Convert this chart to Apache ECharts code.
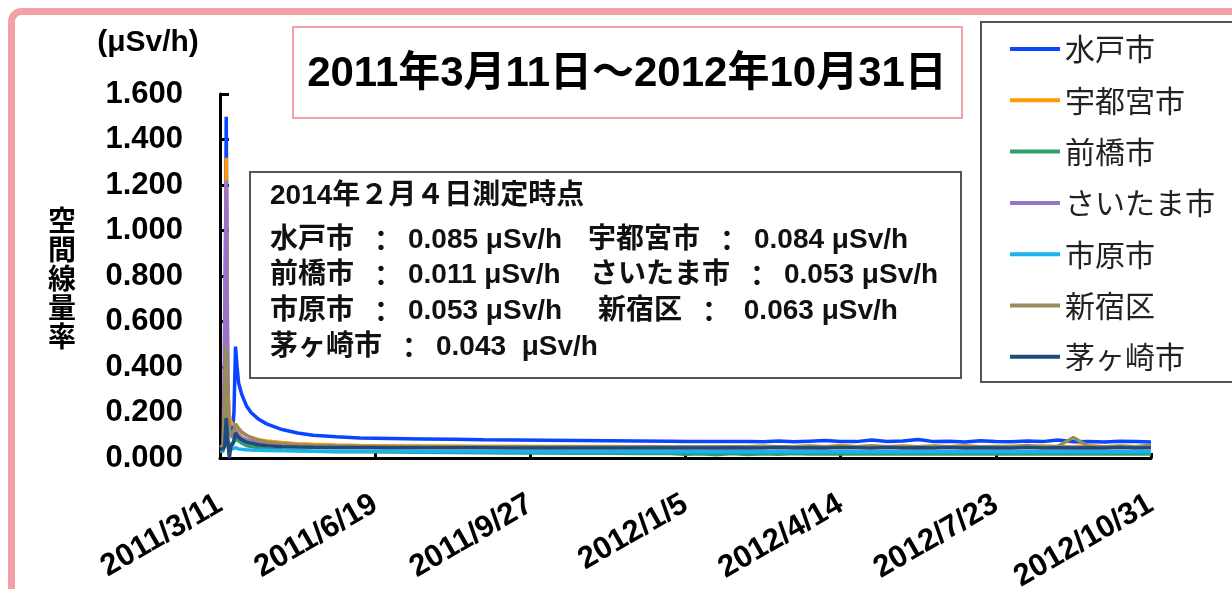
<!DOCTYPE html>
<html>
<head>
<meta charset="utf-8">
<title>空間線量率</title>
<script src="https://cdn.jsdelivr.net/npm/echarts@6/dist/echarts.min.js"></script>
<style>
  html, body { margin: 0; padding: 0; background: #fff; }
  #chart { width: 1232px; height: 589px; }
</style>
</head>
<body>
<div id="chart"></div>
<script>
// 都市名と線の色
const cities = ['水戸市', '宇都宮市', '前橋市', 'さいたま市', '市原市', '新宿区', '茅ヶ崎市']
const colors = ['#0a46ff', '#ff9a00', '#2f9e6c', '#9a72c8', '#19b2f2', '#978c5b', '#1f4a7c']

// x軸の目盛ラベル（100日ごと）
const tickLabels = ['2011/3/11', '2011/6/19', '2011/9/27', '2012/1/5', '2012/4/14', '2012/7/23', '2012/10/31']

// 2011/3/11 からの経過日数
const days = [0, 1, 2, 3, 4, 5, 6, 7, 8, 9, 10, 11, 12,
  14, 17, 20, 25, 30,
  40, 50, 60, 75, 90,
  110, 130, 150, 170, 190, 210, 230, 250, 270, 290,
  300, 310, 320, 330, 340, 350, 360, 370, 380, 390, 400, 410, 420, 430, 440,
  450, 460, 470, 480, 490, 500, 510, 520, 530, 540, 550, 560, 570, 580, 590, 600]

// 空間線量率 (μSv/h)
const mito = [0.05, 0.05, 0.055, 0.08, 1.50, 0.35, 0.12, 0.10, 0.11, 0.20, 0.49, 0.40, 0.33,
  0.28, 0.23, 0.20, 0.17, 0.15,
  0.125, 0.11, 0.10, 0.093, 0.088,
  0.086, 0.084, 0.082, 0.080, 0.079, 0.078, 0.077, 0.076, 0.075, 0.074,
  0.073, 0.073, 0.072, 0.072, 0.072, 0.071, 0.075, 0.071, 0.074, 0.077, 0.073, 0.072, 0.079, 0.073, 0.075,
  0.081, 0.072, 0.074, 0.070, 0.076, 0.073, 0.071, 0.075, 0.072, 0.079, 0.071, 0.073, 0.070, 0.074, 0.072, 0.070]
const utsunomiya = [0.045, 0.045, 0.05, 0.06, 1.32, 0.30, 0.19, 0.16, 0.15, 0.15, 0.145, 0.13, 0.12,
  0.11, 0.10, 0.09, 0.08, 0.075,
  0.068, 0.063, 0.06, 0.057, 0.055,
  0.054, 0.053, 0.053, 0.052, 0.052, 0.051, 0.051, 0.051, 0.050, 0.050,
  0.050, 0.050, 0.049, 0.050, 0.049, 0.052, 0.049, 0.050, 0.051, 0.049, 0.055, 0.050, 0.052, 0.049, 0.053,
  0.050, 0.051, 0.049, 0.054, 0.050, 0.049, 0.052, 0.050, 0.053, 0.049, 0.050, 0.055, 0.049, 0.051, 0.050, 0.049]
const maebashi = [0.03, 0.03, 0.03, 0.035, 0.20, 0.08, 0.06, 0.06, 0.06, 0.07, 0.09, 0.08, 0.075,
  0.065, 0.055, 0.05, 0.045, 0.04,
  0.036, 0.033, 0.03, 0.028, 0.027,
  0.026, 0.025, 0.024, 0.023, 0.022, 0.022, 0.021, 0.021, 0.020, 0.020,
  0.016, 0.019, 0.014, 0.020, 0.015, 0.019, 0.017, 0.020, 0.018, 0.019, 0.018, 0.019, 0.018, 0.018, 0.019,
  0.018, 0.018, 0.019, 0.018, 0.018, 0.018, 0.019, 0.018, 0.018, 0.018, 0.019, 0.018, 0.018, 0.018, 0.018, 0.018]
const saitama = [0.04, 0.04, 0.04, 0.045, 1.22, 0.25, 0.13, 0.10, 0.09, 0.10, 0.12, 0.11, 0.10,
  0.09, 0.08, 0.075, 0.068, 0.062,
  0.057, 0.054, 0.052, 0.051, 0.050,
  0.050, 0.049, 0.049, 0.048, 0.048, 0.048, 0.047, 0.047, 0.047, 0.047,
  0.047, 0.047, 0.046, 0.047, 0.046, 0.048, 0.046, 0.047, 0.047, 0.046, 0.048, 0.047, 0.046, 0.047, 0.048,
  0.046, 0.047, 0.047, 0.046, 0.048, 0.047, 0.046, 0.047, 0.047, 0.048, 0.046, 0.047, 0.046, 0.047, 0.047, 0.046]
const ichihara = [0.035, 0.035, 0.035, 0.04, 0.10, 0.06, 0.045, 0.04, 0.04, 0.04, 0.045, 0.042, 0.04,
  0.038, 0.036, 0.035, 0.034, 0.033,
  0.032, 0.031, 0.03, 0.03, 0.03,
  0.03, 0.029, 0.029, 0.029, 0.028, 0.028, 0.028, 0.028, 0.028, 0.027,
  0.027, 0.027, 0.028, 0.027, 0.027, 0.028, 0.027, 0.027, 0.028, 0.027, 0.027, 0.027, 0.028, 0.027, 0.027,
  0.027, 0.028, 0.027, 0.027, 0.027, 0.028, 0.027, 0.027, 0.027, 0.027, 0.028, 0.027, 0.027, 0.027, 0.027, 0.027]
const shinjuku = [0.04, 0.04, 0.04, 0.045, 0.49, 0.20, 0.12, 0.10, 0.10, 0.12, 0.15, 0.14, 0.13,
  0.115, 0.10, 0.09, 0.078, 0.07,
  0.063, 0.058, 0.055, 0.053, 0.052,
  0.051, 0.051, 0.050, 0.050, 0.050, 0.049, 0.049, 0.049, 0.049, 0.049,
  0.049, 0.049, 0.048, 0.049, 0.049, 0.051, 0.049, 0.050, 0.053, 0.049, 0.052, 0.050, 0.054, 0.049, 0.051,
  0.050, 0.053, 0.049, 0.052, 0.050, 0.051, 0.049, 0.055, 0.050, 0.052, 0.090, 0.051, 0.049, 0.053, 0.050, 0.056]
const chigasaki = [0.04, 0.04, 0.04, 0.05, 0.175, 0.08, 0.0, 0.05, 0.06, 0.08, 0.11, 0.10, 0.09,
  0.08, 0.07, 0.065, 0.058, 0.054,
  0.05, 0.048, 0.047, 0.046, 0.046,
  0.045, 0.045, 0.045, 0.045, 0.044, 0.044, 0.044, 0.044, 0.044, 0.044,
  0.044, 0.044, 0.044, 0.045, 0.044, 0.044, 0.046, 0.044, 0.045, 0.044, 0.046, 0.045, 0.044, 0.046, 0.044,
  0.045, 0.044, 0.046, 0.044, 0.045, 0.044, 0.044, 0.046, 0.044, 0.045, 0.044, 0.045, 0.044, 0.046, 0.044, 0.045]
const values = [mito, utsunomiya, maebashi, saitama, ichihara, shinjuku, chigasaki]

// 2014年2月4日測定時点の注記（都市名と値）
const noteTitle = '2014年２月４日測定時点'
const noteLeft = [['水戸市', '0.085 μSv/h'], ['前橋市', '0.011 μSv/h'], ['市原市', '0.053 μSv/h'], ['茅ヶ崎市', '0.043  μSv/h']]
const noteRight = [['宇都宮市', '0.084 μSv/h'], ['さいたま市', '0.053 μSv/h'], ['新宿区', ' 0.063 μSv/h']]

const FONT = '"Liberation Sans", Arial, "Noto Sans CJK JP", sans-serif'
const CJK = '"Noto Sans CJK JP", sans-serif'

const myChart = echarts.init(document.getElementById('chart'))

const noteRowY = [240, 275, 311, 347]
const noteRightX = [588, 590, 598]

// 注記1行分のリッチテキスト
function noteText (x, y, pair) {
  return {
    type: 'text', x: x, y: y,
    style: {
      text: '{n|' + pair[0] + '}{c|：}{n|' + pair[1] + '}',
      textVerticalAlign: 'middle',
      rich: {
        n: { font: 'bold 28px ' + FONT, fill: '#111' },
        c: { font: 'bold 28px ' + CJK, fill: '#111', width: 54, align: 'center' }
      }
    }
  }
}

const graphic = [
  // ピンクの外枠
  { type: 'rect', shape: { x: 11.5, y: 11.5, width: 1300, height: 700, r: 10 },
    style: { fill: 'none', stroke: '#f5a0a8', lineWidth: 7 }, silent: true },
  // タイトル枠
  { type: 'rect', shape: { x: 293, y: 27, width: 669, height: 91 },
    style: { fill: 'none', stroke: '#f5a0a8', lineWidth: 2 }, silent: true },
  { type: 'text', x: 627, y: 74,
    style: { text: '2011年3月11日～2012年10月31日', font: 'bold 42px ' + FONT, fill: '#000', textAlign: 'center', textVerticalAlign: 'middle' } },
  // 単位
  { type: 'text', x: 148, y: 43,
    style: { text: '(μSv/h)', font: 'bold 30px ' + FONT, fill: '#000', textAlign: 'center', textVerticalAlign: 'middle' } },
  // 縦書きの軸名
  { type: 'text', x: 62, y: 278,
    style: { text: '空\n間\n線\n量\n率', font: 'bold 28px ' + CJK, lineHeight: 29, fill: '#000', textAlign: 'center', textVerticalAlign: 'middle' } },
  // 凡例の枠
  { type: 'rect', shape: { x: 981, y: 22, width: 300, height: 360 },
    style: { fill: 'none', stroke: '#555', lineWidth: 2 }, silent: true },
  // 注記の枠
  { type: 'rect', shape: { x: 250, y: 172, width: 711, height: 206 },
    style: { fill: 'none', stroke: '#555', lineWidth: 2 }, silent: true },
  { type: 'text', x: 270, y: 196,
    style: { text: noteTitle, font: 'bold 28px ' + FONT, fill: '#111', textVerticalAlign: 'middle' } }
]
noteLeft.forEach((p, i) => graphic.push(noteText(270, noteRowY[i], p)))
noteRight.forEach((p, i) => graphic.push(noteText(noteRightX[i], noteRowY[i], p)))

const option = {
  animation: false,
  color: colors,
  grid: { left: 220, top: 94, right: 81, bottom: 131, outerBoundsMode: 'none' },
  legend: {
    orient: 'vertical',
    left: 1005,
    top: 29,
    icon: 'rect',
    itemWidth: 50,
    itemHeight: 4,
    itemGap: 21.3,
    textStyle: { fontSize: 30, lineHeight: 30, color: '#222', fontFamily: CJK },
    data: cities
  },
  xAxis: {
    type: 'value',
    min: 0,
    max: 600,
    interval: 100,
    axisLine: { lineStyle: { color: '#000', width: 3 } },
    axisTick: { show: true, inside: true, length: 5, lineStyle: { color: '#000', width: 3 } },
    axisLabel: {
      rotate: 30,
      margin: 44,
      showMinLabel: true,
      showMaxLabel: true,
      fontSize: 31,
      fontWeight: 'bold',
      color: '#000',
      fontFamily: FONT,
      formatter: v => tickLabels[Math.round(v / 100)]
    },
    splitLine: { show: false }
  },
  yAxis: {
    type: 'value',
    min: 0,
    max: 1.6,
    interval: 0.2,
    axisLine: { show: true, lineStyle: { color: '#000', width: 3 } },
    axisTick: { show: true, inside: true, length: 9, lineStyle: { color: '#000', width: 3 } },
    axisLabel: {
      margin: 37,
      fontSize: 31,
      fontWeight: 'bold',
      color: '#000',
      fontFamily: FONT,
      padding: [10, 0, 0, 0],
      formatter: v => v.toFixed(3)
    },
    splitLine: { show: false }
  },
  series: cities.map((name, k) => ({
    name: name,
    type: 'line',
    symbol: 'none',
    lineStyle: { width: 3.5 },
    emphasis: { disabled: true },
    data: days.map((d, i) => [d, values[k][i]])
  })),
  graphic: graphic
}

myChart.setOption(option)
window.addEventListener('resize', function () {
  myChart.resize()
})
</script>
</body>
</html>
